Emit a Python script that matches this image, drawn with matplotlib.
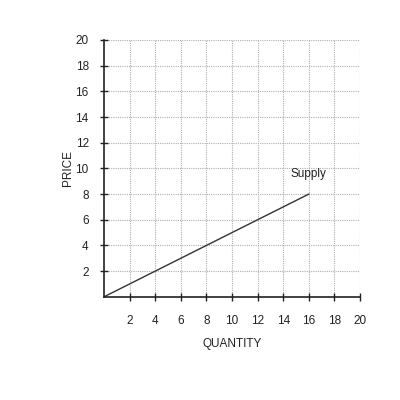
import matplotlib
matplotlib.use('Agg')
import matplotlib.pyplot as plt

# supply curve endpoints
supply_q = [0, 16]
supply_p = [0, 8]
ticks = [2, 4, 6, 8, 10, 12, 14, 16, 18, 20]

plt.rcParams['font.family'] = ['Liberation Sans', 'DejaVu Sans']

fig = plt.figure(figsize=(4, 4), dpi=100)
ax = fig.add_axes([0.26, 0.258, 0.64, 0.642])

ax.plot(supply_q, supply_p, color='#333333', linewidth=1.0)
ax.text(14.6, 9.6, 'Supply', fontsize=8.5, color='#222222', va='center')

ax.set_xlim(0, 20)
ax.set_ylim(0, 20)
ax.set_xticks(ticks)
ax.set_yticks(ticks)
ax.set_xticklabels([str(t) for t in ticks], fontsize=8.5, color='#222222')
ax.set_yticklabels([str(t) for t in ticks], fontsize=8.5, color='#222222')
ax.tick_params(axis='both', direction='inout', length=6, width=1, color='#222222')
ax.tick_params(axis='x', pad=10)
ax.tick_params(axis='y', pad=8)

ax.grid(True, linestyle=(0, (1, 1)), color='#b0b0b0', linewidth=0.8)
ax.set_axisbelow(True)
for s in ['top', 'right']:
    ax.spines[s].set_visible(False)
for s in ['left', 'bottom']:
    ax.spines[s].set_color('#222222')
    ax.spines[s].set_linewidth(1.2)

ax.set_xlabel('QUANTITY', fontsize=8.5, color='#222222', labelpad=8)
ax.set_ylabel('PRICE', fontsize=8.5, color='#222222', labelpad=1)

fig.savefig('out.png', dpi=100)
